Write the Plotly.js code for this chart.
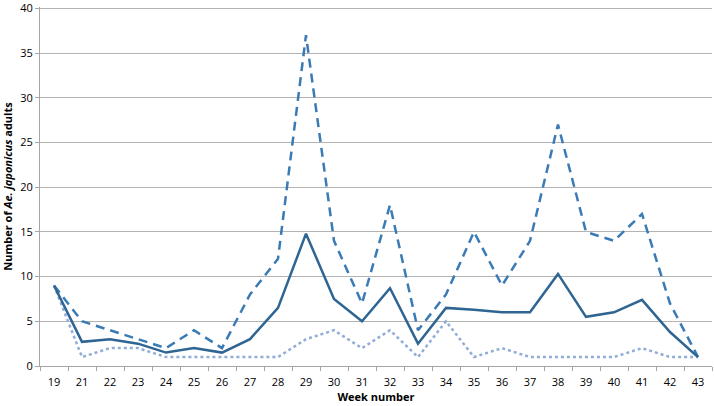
<!DOCTYPE html>
<html>
<head>
<meta charset="utf-8">
<script src="https://cdn.plot.ly/plotly-3.0.1.min.js"></script>
<style>
  html, body { margin: 0; padding: 0; background: #fff; }
  #chart { width: 714px; height: 406px; }
</style>
</head>
<body>
<div id="chart"></div>
<script>
// Ae. japonicus adults per week
const weeks = ["19", "21", "22", "23", "24", "25", "26", "27", "28", "29", "30", "31",
               "32", "33", "34", "35", "36", "37", "38", "39", "40", "41", "42", "43"];
const meanCount = [9, 2.7, 3, 2.5, 1.5, 2, 1.5, 3, 6.5, 14.8, 7.5, 5,
                   8.7, 2.5, 6.5, 6.3, 6, 6, 10.3, 5.5, 6, 7.4, 3.8, 1];
const maxCount = [9, 5, 4, 3, 2, 4, 2, 8, 12, 37, 14, 7,
                  18, 4, 8, 15, 9, 14, 27, 15, 14, 17, 7, 1];
const minCount = [9, 1, 2, 2, 1, 1, 1, 1, 1, 3, 4, 2,
                  4, 1, 5, 1, 2, 1, 1, 1, 1, 2, 1, 1];

const font = "Open Sans, Liberation Sans, sans-serif";

const data = [
    {
        x: weeks, y: maxCount, type: 'scatter', mode: 'lines',
        line: { color: "#3a7ab5", width: 2.5, dash: "9px,6px" },
        hoverinfo: 'y'
    },
    {
        x: weeks, y: minCount, type: 'scatter', mode: 'lines',
        line: { color: "#92acd8", width: 2.5, dash: "dot" },
        hoverinfo: 'y'
    },
    {
        x: weeks, y: meanCount, type: 'scatter', mode: 'lines',
        line: { color: "#2e6592", width: 2.5 },
        hoverinfo: 'y'
    }
];

const layout = {
    width: 714,
    height: 406,
    margin: { l: 40, r: 2, t: 7, b: 40 },
    paper_bgcolor: "#ffffff",
    plot_bgcolor: "#ffffff",
    showlegend: false,
    font: { family: font, size: 11, color: "#000" },
    xaxis: {
        type: 'category',
        range: [-0.5, 23.5],
        showgrid: false,
        showline: true,
        linecolor: "#a6a6a6",
        linewidth: 1,
        ticks: 'outside',
        tickson: 'boundaries',
        ticklen: 4,
        tickcolor: "#a6a6a6",
        ticklabelstandoff: 6,
        tickfont: { family: font, size: 11 },
        title: { text: "<b>Week number</b>", font: { family: font, size: 11 }, standoff: 2 }
    },
    yaxis: {
        // a little headroom so the 40 gridline is not clipped at the edge
        range: [0, 40.15],
        tickvals: [0, 5, 10, 15, 20, 25, 30, 35, 40],
        ticklabeloverflow: 'allow',
        showgrid: true,
        gridcolor: "#b3b3b3",
        gridwidth: 1,
        zeroline: false,
        showline: true,
        linecolor: "#a6a6a6",
        ticks: 'outside',
        ticklen: 4,
        tickcolor: "#a6a6a6",
        tickfont: { family: font, size: 11 },
        title: {
            text: "<b>Number of <i>Ae. japonicus</i> adults</b>",
            font: { family: font, size: 11 },
            standoff: 6
        }
    }
};

Plotly.newPlot('chart', data, layout, { displayModeBar: false });
</script>
</body>
</html>
